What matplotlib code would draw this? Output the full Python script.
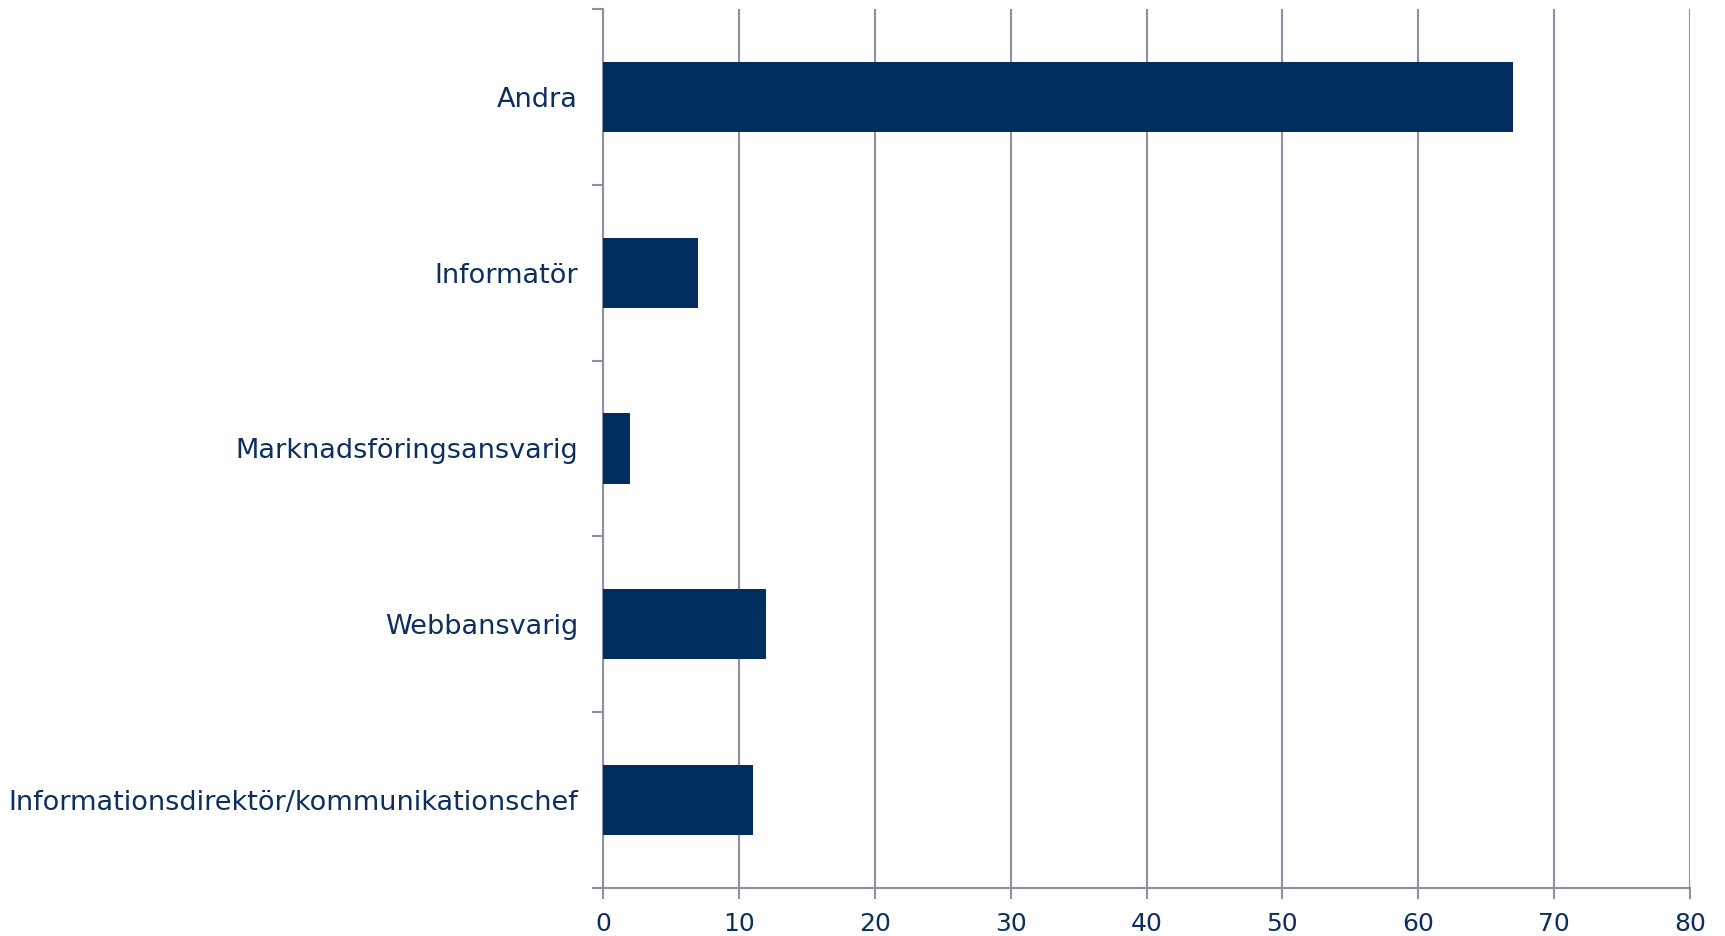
import numpy as np
import matplotlib.pyplot as plt

plt.rcParams['font.family'] = ['DejaVu Sans']

categories = ['Informationsdirektör/kommunikationschef', 'Webbansvarig',
              'Marknadsföringsansvarig', 'Informatör', 'Andra']
values = [11, 12, 2, 7, 67]
xticks = [0, 10, 20, 30, 40, 50, 60, 70, 80]

bar_color = '#002e5f'
grid_color = '#8c90a2'
text_color = '#0d2f5e'

fig = plt.figure(figsize=(17.25, 9.36), dpi=100)
ax = fig.add_axes([0.3496, 0.0513, 0.6301, 0.9391])

y = np.arange(len(categories))
ax.barh(y, values, height=0.4, color=bar_color, zorder=3)

ax.set_xlim(0, 80)
ax.set_ylim(-0.5, len(categories) - 0.5)
ax.set_xticks(xticks)
ax.set_xticklabels([str(t) for t in xticks], fontsize=18, color=text_color)

# boundary ticks on y, labels at category centers
ax.set_yticks(np.arange(-0.5, len(categories)))
ax.set_yticklabels([])
ax.set_yticks(y, minor=True)
ax.set_yticklabels(categories, minor=True, fontsize=19.5, color=text_color)
ax.tick_params(axis='y', which='minor', length=0, pad=18)
ax.tick_params(axis='y', which='major', length=8, width=1.5, color=grid_color)
ax.tick_params(axis='x', length=8, width=1.5, color=grid_color, pad=9)

ax.grid(axis='x', color=grid_color, linewidth=1.5, zorder=0)
for side in ['top', 'right']:
    ax.spines[side].set_visible(False)
for side in ['left', 'bottom']:
    ax.spines[side].set_color(grid_color)
    ax.spines[side].set_linewidth(1.5)

fig.savefig('out.png', dpi=100)
